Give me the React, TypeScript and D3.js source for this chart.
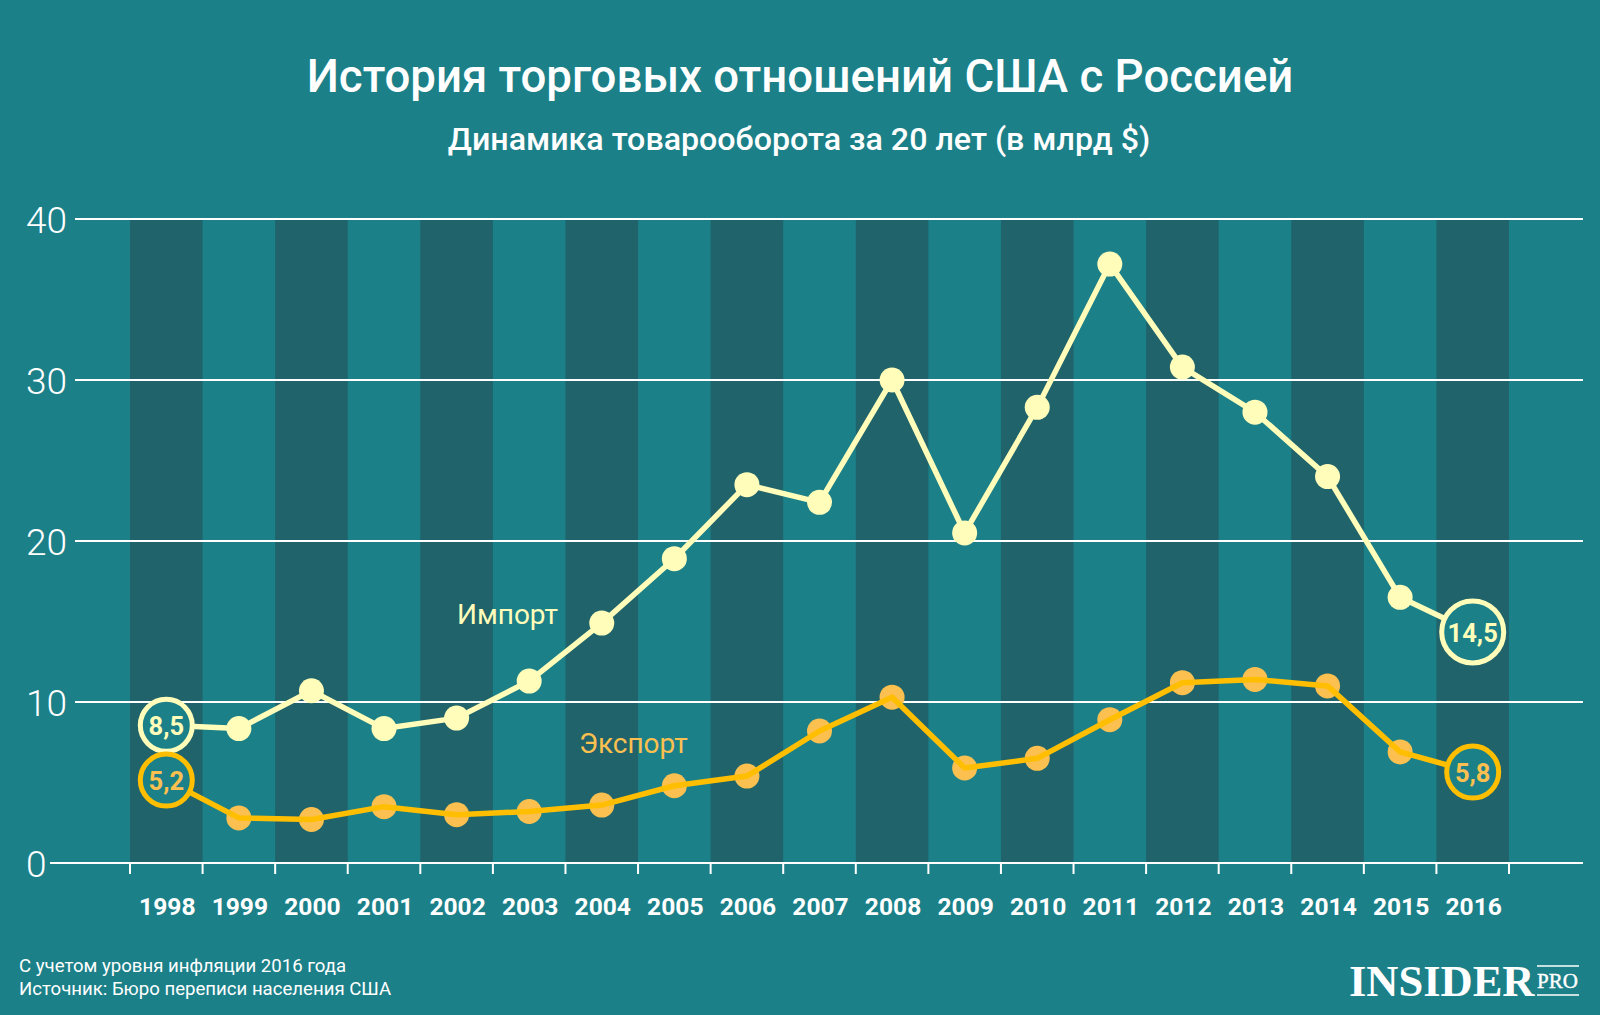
import React from "react";
import * as d3 from "d3";

const years = ["1998","1999","2000","2001","2002","2003","2004","2005","2006","2007","2008","2009","2010","2011","2012","2013","2014","2015","2016"];
const importValues = [8.55, 8.35, 10.7, 8.35, 9.0, 11.3, 14.9, 18.9, 23.5, 22.4, 30.0, 20.5, 28.3, 37.2, 30.8, 28.0, 24.0, 16.5, 14.35];
const exportValues = [5.15, 2.8, 2.7, 3.5, 3.0, 3.2, 3.6, 4.8, 5.4, 8.2, 10.3, 5.9, 6.5, 8.9, 11.2, 11.4, 11.0, 6.9, 5.65];
const yTicks = [0, 10, 20, 30, 40];
const importEnds = ["8,5", "14,5"];
const exportEnds = ["5,2", "5,8"];

const BG = "#1c8089";
const BAND = "#20636a";
const PALE = "#fffdb9";
const AMBER = "#ffbe00";
const AMBER_DOT = "#fbc04f";
const FONT = "Roboto, sans-serif";

// the 19 year bands sit edge to edge, every other one shaded
const x = d3.scaleBand<string>().domain(years).range([130, 1509]);
const y = d3.scaleLinear().domain([0, 40]).range([863, 219]);
const cx = (year: string) => (x(year) as number) + x.bandwidth() / 2;

const lineFor = d3
  .line<number>()
  .x((_, i) => cx(years[i]))
  .y((d) => y(d));

const Series = ({ values, stroke, dot }: { values: number[]; stroke: string; dot: string }) => (
  <g>
    {values.slice(1, -1).map((v, i) => (
      <circle key={i} cx={cx(years[i + 1])} cy={y(v)} r={12.5} fill={dot} />
    ))}
    <path d={lineFor(values) as string} fill="none" stroke={stroke} strokeWidth={5.5} strokeLinejoin="round" />
  </g>
);

const Callout = ({ year, value, r, label, stroke, color }: { year: string; value: number; r: number; label: string; stroke: string; color: string }) => (
  <g>
    <circle cx={cx(year)} cy={y(value)} r={r} fill={BG} stroke={stroke} strokeWidth={5} />
    <text x={cx(year)} y={y(value) + 10} textAnchor="middle" fontSize={25.5} fontWeight={700} fill={color}>
      {label}
    </text>
  </g>
);

export default function App() {
  const last = years.length - 1;
  return (
    <svg
      width={1600}
      height={1015}
      viewBox="0 0 1600 1015"
      fontFamily={FONT}
      style={{ position: "absolute", left: 0, top: 0, display: "block" }}
    >
      <rect width={1600} height={1015} fill={BG} />

      <text x={800} y={92} textAnchor="middle" fontSize={45.6} fontWeight={500} fill="#fff">
        История торговых отношений США с Россией
      </text>
      <text x={799} y={150} textAnchor="middle" fontSize={32.2} fontWeight={500} fill="#fff">
        Динамика товарооборота за 20 лет (в млрд $)
      </text>

      {years.map((yr, i) =>
        i % 2 === 0 ? (
          <rect key={yr} x={x(yr)} y={y(40)} width={x.bandwidth()} height={y(0) - y(40)} fill={BAND} />
        ) : null
      )}

      {yTicks.map((t) => (
        <g key={t}>
          <line x1={t === 0 ? 50 : 75} x2={1583} y1={y(t)} y2={y(t)} stroke="#fff" strokeWidth={2} />
          <text x={26} y={y(t) + 14} fontSize={37} fontWeight={300} fill="#fff">
            {t}
          </text>
        </g>
      ))}

      {[...years, ""].map((yr, i) => {
        const tx = 130 + i * x.step();
        return <line key={i} x1={tx} x2={tx} y1={y(0)} y2={y(0) + 11} stroke="#fff" strokeWidth={2} />;
      })}
      {years.map((yr) => (
        <text key={yr} x={cx(yr) + 1} y={915} textAnchor="middle" fontSize={24.6} fontWeight={700} fill="#fff">
          {yr}
        </text>
      ))}

      <Series values={importValues} stroke={PALE} dot={PALE} />
      <Series values={exportValues} stroke={AMBER} dot={AMBER_DOT} />

      <Callout year={years[0]} value={importValues[0]} r={26} label={importEnds[0]} stroke={PALE} color={PALE} />
      <Callout year={years[0]} value={exportValues[0]} r={26} label={exportEnds[0]} stroke={AMBER} color={AMBER_DOT} />
      <Callout year={years[last]} value={importValues[last]} r={31} label={importEnds[1]} stroke={PALE} color={PALE} />
      <Callout year={years[last]} value={exportValues[last]} r={26} label={exportEnds[1]} stroke={AMBER} color={AMBER_DOT} />

      <text x={457} y={624} fontSize={28} fill={PALE}>Импорт</text>
      <text x={579} y={753} fontSize={28} fill={AMBER_DOT}>Экспорт</text>

      <text x={19} y={972} fontSize={18.6} fill="#fff">С учетом уровня инфляции 2016 года</text>
      <text x={19} y={995} fontSize={18.6} fill="#fff">Источник: Бюро переписи населения США</text>

      <text x={1349} y={996} fontFamily="'Liberation Serif', serif" fontWeight={700} fontSize={44.5} fill="#fff">
        INSIDER
      </text>
      <text x={1537} y={988} fontFamily="'Liberation Serif', serif" fontSize={21} fill="#fff" stroke="#fff" strokeWidth={0.4}>
        PRO
      </text>
      <line x1={1537} x2={1579} y1={966} y2={966} stroke="#fff" strokeWidth={1.5} />
      <line x1={1537} x2={1579} y1={995} y2={995} stroke="#fff" strokeWidth={1.5} />
    </svg>
  );
}
